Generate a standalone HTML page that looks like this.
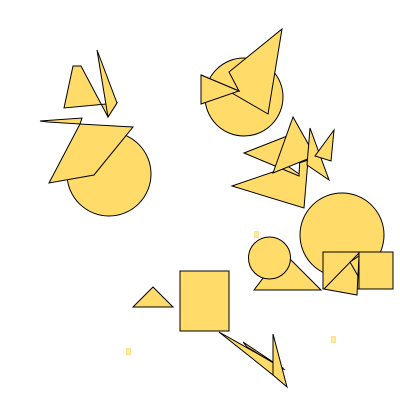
<!DOCTYPE html>
<html><head><meta charset="utf-8"><style>html,body{margin:0;padding:0;background:#fff}svg{display:block}</style></head>
<body>
<svg width="400" height="400" viewBox="0 0 400 400" xmlns="http://www.w3.org/2000/svg">
<g fill="#FFDC6A" stroke="#000" stroke-width="1">
<circle cx="109" cy="174" r="42"/>
<polygon points="49,183 80,124 133,127 94,175"/>
<polygon points="40,121 82,118 80,124 48,122"/>
<polygon points="64,108 73,66 81,66 108,117 117,103"/>
<polygon points="97,50 117,103 108,117"/>
<circle cx="244" cy="97" r="39"/>
<polygon points="229,72 282,29 268,114 201,75 239,91"/>
<polygon points="201,75 201,104 239,91"/>
<polygon points="232,186 308,160 304,208"/>
<polygon points="244,153 300,131 299,176"/>
<polygon fill="#fff" points="282,162 300,158 299,174"/>
<polygon points="293,117 273,173 315,156"/>
<polygon points="310,128 329,180 307,165"/>
<polygon points="334,130 331,161 315,156"/>
<circle cx="342" cy="235" r="42"/>
<polygon points="254,290 321,290 283,252"/>
<circle cx="269.5" cy="258" r="21"/>
<rect x="323" y="252" width="36" height="37"/>
<rect x="359" y="252" width="34" height="37"/>
<polygon points="324,289 359,253 357,295"/>
<polygon points="350,262 359,256 358,276"/>
<polygon points="133,307 173,307 153,287"/>
<rect x="180" y="271" width="49" height="60"/>
<polygon points="219,332 273,375 283,368"/>
<polygon points="243,342 285,370 247,347"/>
<polygon points="273,334 287,387 273,375"/>
</g>
<g fill="#FFE9A8" stroke="#FFE08A" stroke-width="1">
<rect x="254.5" y="231.5" width="4" height="6"/>
<rect x="331.5" y="336.5" width="4" height="6"/>
<rect x="126.5" y="348.5" width="4" height="6"/>
</g>
</svg>
</body></html>
